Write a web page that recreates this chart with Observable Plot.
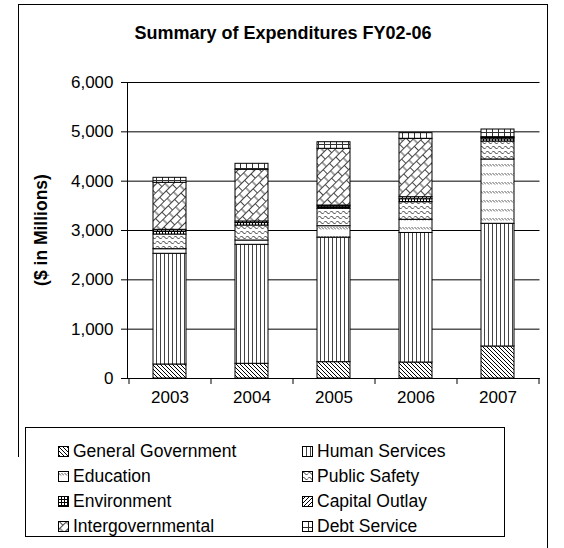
<!DOCTYPE html>
<html>
<head>
<meta charset="utf-8">
<script src="https://cdn.jsdelivr.net/npm/d3@7"></script>
<script src="https://cdn.jsdelivr.net/npm/@observablehq/plot@0.6"></script>
<style>
  body { margin: 0; background: #fff; font-family: "Liberation Sans", Arial, sans-serif; color: #000; }
  #wrap { position: relative; width: 564px; height: 548px; overflow: hidden; background: #fff; }
  #wrap > svg { position: absolute; left: 0; top: 0; }
  .line { position: absolute; background: #000; }
  #title { position: absolute; left: 0; width: 564px; top: 23px; text-align: center; font-weight: bold; font-size: 18px; line-height: 21px; padding-left: 1px; }
  #legend { position: absolute; left: 25px; top: 427px; width: 480px; height: 110px; box-sizing: border-box; border: 1px solid #000; background: #fff; }
  .item { position: absolute; display: flex; align-items: center; font-size: 17.5px; height: 20px; white-space: nowrap; }
  .item svg { margin-right: 4px; flex: none; }
</style>
</head>
<body>
<div id="wrap">
  <div class="line" style="left:18px; top:4px; width:530px; height:1px;"></div>
  <div class="line" style="left:18px; top:4px; width:1px; height:453px;"></div>
  <div class="line" style="left:547px; top:4px; width:1px; height:544px;"></div>
  <div id="title">Summary of Expenditures FY02-06</div>
  <div id="legend"></div>
</div>
<script>
// Fiscal years and spending categories ($ in millions)
const years = ["2003", "2004", "2005", "2006", "2007"];
const categories = [
  "General Government", "Human Services", "Education", "Public Safety",
  "Environment", "Capital Outlay", "Intergovernmental", "Debt Service"
];
const generalGovernment = [284, 298, 331, 324, 649];
const humanServices     = [2244, 2412, 2524, 2626, 2487];
const education         = [93, 87, 232, 267, 1303];
const publicSafety      = [298, 304, 353, 357, 365];
const environment       = [60, 50, 45, 60, 45];
const capitalOutlay     = [35, 32, 22, 41, 25];
const intergovernmental = [953, 1048, 1149, 1184, 18];
const debtService       = [101, 121, 134, 114, 155];
const yTicks = [0, 1000, 2000, 3000, 4000, 5000, 6000];

const series = [generalGovernment, humanServices, education, publicSafety,
                environment, capitalOutlay, intergovernmental, debtService];
const rows = [];
categories.forEach((category, i) => {
  years.forEach((year, j) => rows.push({year, category, value: series[i][j]}));
});

const font = '"Liberation Sans", Arial, sans-serif';
const patternIds = categories.map((c, i) => `pat${i}`);

const svg = Plot.plot({
  width: 564,
  height: 420,
  marginLeft: 127,
  marginRight: 24.5,
  marginTop: 82,
  marginBottom: 42,
  style: {fontFamily: font, fontSize: "17px", color: "#000", background: "transparent", overflow: "visible"},
  x: {domain: years, paddingInner: 0.6, paddingOuter: 0.3, label: null},
  y: {domain: [0, 6000], label: null},
  color: {domain: categories, range: patternIds.map(id => `url(#${id})`)},
  marks: [
    Plot.ruleY(yTicks, {stroke: "#000", strokeWidth: 1}),
    Plot.barY(rows, {
      x: "year", y: "value", z: "category", fill: "category",
      order: categories, stroke: "#000", strokeWidth: 1
    }),
    Plot.axisY({ticks: yTicks, tickFormat: d3.format(","), tickSize: 6, tickPadding: 8,
                fontSize: 17, label: null, stroke: "#000"}),
    Plot.axisX({tickSize: 0, tickPadding: 12, fontSize: 17, label: null}),
    Plot.ruleY([0], {stroke: "#000"})
  ]
});

// hatch fills for the stacked segments
const defs = d3.select(svg).insert("defs", ":first-child");
function pattern(id, w, h, d, stroke, transform) {
  const p = defs.append("pattern").attr("id", id)
    .attr("patternUnits", "userSpaceOnUse").attr("width", w).attr("height", h);
  if (transform) p.attr("patternTransform", transform);
  p.append("rect").attr("width", w).attr("height", h).attr("fill", "#fff");
  p.append("path").attr("d", d).attr("fill", "none").attr("stroke", stroke).attr("stroke-width", 1);
}
pattern("pat0", 4, 4, "M0,0L4,4M-1,3L1,5M3,-1L5,1", "#000");
pattern("pat1", 4, 4, "M0.5,0V4", "#444");
pattern("pat2", 6, 9, "M0.5,2L3,4.5M3.5,2L6,4.5", "#555");
pattern("pat3", 6, 5, "M0,2.5L1.5,1L4.5,4L6,2.5", "#333");
pattern("pat4", 3, 3, "M0.5,0V3M0,0.5H3", "#000");
pattern("pat5", 4, 4, "M0,4L4,0M-1,1L1,-1M3,5L5,3", "#000");
pattern("pat6", 9, 12, "M0,0.5H9M0,6.5H9M0.5,0.5V6.5M5,6.5V12.5", "#444", "rotate(-45)");
pattern("pat7", 6, 6, "M0.5,0V6M0,0.5H6", "#333");

// value axis line and category boundary ticks
const xScale = svg.scale("x");
const yScale = svg.scale("y");
const [yBottom, yTop] = yScale.range;
const left = xScale.range[0];
const g = d3.select(svg).append("g").attr("stroke", "#000").attr("stroke-width", 1);
g.append("line").attr("x1", left + 0.5).attr("x2", left + 0.5).attr("y1", yTop).attr("y2", yBottom);
const bounds = new Set();
years.forEach(y => {
  const c = xScale.apply(y) + xScale.bandwidth / 2;
  bounds.add(+(c - xScale.step / 2).toFixed(2));
  bounds.add(+(c + xScale.step / 2).toFixed(2));
});
[...bounds].forEach(bx => {
  g.append("line").attr("x1", bx + 0.5).attr("x2", bx + 0.5).attr("y1", yBottom).attr("y2", yBottom + 6);
});

// rotated axis title
d3.select(svg).append("text")
  .attr("transform", `translate(42,${(yTop + yBottom) / 2}) rotate(-90)`)
  .attr("text-anchor", "middle").attr("dominant-baseline", "middle")
  .attr("font-weight", "bold").attr("font-size", 17.5).attr("fill", "#000")
  .text("($ in Millions)");

document.getElementById("wrap").insertBefore(svg, document.getElementById("title"));

// legend: two columns, read row by row
const legend = d3.select("#legend");
categories.forEach((c, i) => {
  const col = i % 2, row = Math.floor(i / 2);
  const item = legend.append("div").attr("class", "item")
    .style("left", (col ? 276 : 32) + "px")
    .style("top", (13 + row * 25) + "px");
  const sw = item.append("svg").attr("width", 11).attr("height", 11);
  sw.append("rect").attr("x", 0.5).attr("y", 0.5).attr("width", 10).attr("height", 10)
    .attr("fill", `url(#${patternIds[i]})`).attr("stroke", "#000");
  item.append("span").text(c);
});
</script>
</body>
</html>
